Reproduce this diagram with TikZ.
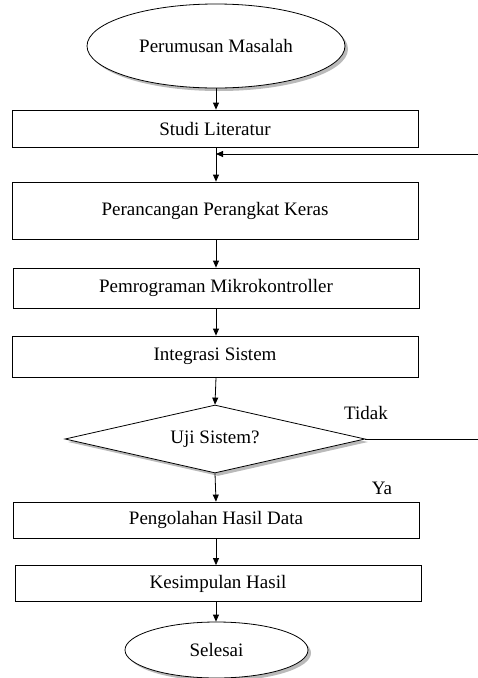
\documentclass[tikz,border=0pt]{standalone}
\usepackage{fontspec}
\setmainfont{Liberation Serif}
\usetikzlibrary{shapes.geometric,arrows.meta,shadows}
\begin{document}
\begin{tikzpicture}[x=1pt,y=-1pt,
  every node/.style={font=\fontsize{19}{22}\selectfont},
  procbox/.style={draw,line width=0.8pt,rectangle,minimum width=406pt,inner sep=0pt},
  termell/.style={draw,line width=0.8pt,ellipse,inner sep=0pt,fill=white,
    drop shadow={opacity=0.45,fill=black!60,shadow xshift=3pt,shadow yshift=-3pt}},
  decis/.style={draw,line width=0.8pt,diamond,inner sep=0pt,minimum width=300pt,minimum height=68pt,aspect=4.4,fill=white,
    drop shadow={opacity=0.45,fill=black!60,shadow xshift=3pt,shadow yshift=-3pt}},
  flow/.style={line width=0.8pt,-{Triangle[length=7pt,width=6pt]}},
  plain/.style={line width=0.8pt},
  lbl/.style={inner sep=0pt}]
\useasboundingbox (0,0) rectangle (478,678);
\node[termell,minimum width=258pt,minimum height=84pt] (start) at (216,46) {Perumusan Masalah};
\node[procbox,minimum height=37pt] (b1) at (215,128.5) {Studi Literatur};
\node[procbox,minimum height=57pt] (b2) at (215,210.5) {Perancangan Perangkat Keras};
\node[procbox,minimum height=40pt] (b3) at (216,288) {Pemrograman Mikrokontroller};
\node[procbox,minimum height=41pt] (b4) at (215,356.5) {Integrasi Sistem};
\node[decis] (d) at (215,439) {Uji Sistem?};
\node[procbox,minimum height=36pt] (b5) at (216,520) {Pengolahan Hasil Data};
\node[procbox,minimum height=36pt] (b6) at (218,583.5) {Kesimpulan Hasil};
\node[termell,minimum width=183pt,minimum height=56pt] (stop) at (216.5,650) {Selesai};
\node[lbl] (tidak) at (366,413) {Tidak};
\node[lbl] (ya) at (382,488) {Ya};
\coordinate (r1) at (478,154);
\coordinate (r2) at (478,441);
\coordinate (x0) at (216,0);
\draw[flow] (start.south -| x0) -- (b1.north -| x0);
\draw[flow] (b1.south -| x0) -- (b2.north -| x0);
\draw[flow] (r1) -- (r1 -| x0);
\draw[flow] (b2.south -| x0) -- (b3.north -| x0);
\draw[flow] (b3.south -| x0) -- (b4.north -| x0);
\draw[flow] (b4.south -| x0) -- (d.north);
\draw[plain] (d.east) -- (d.east -| r2);
\draw[flow] (d.south) -- (b5.north -| x0);
\draw[flow] (b5.south -| x0) -- (b6.north -| x0);
\draw[flow] (b6.south -| x0) -- (stop.north -| x0);
\end{tikzpicture}
\end{document}
